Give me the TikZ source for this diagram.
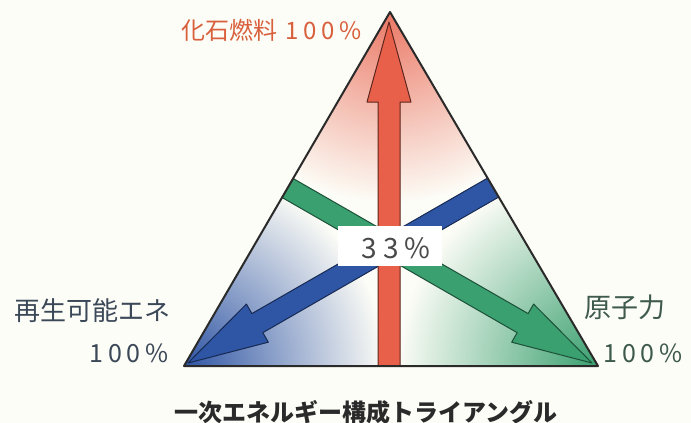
\documentclass[tikz,border=0pt]{standalone}
\usepackage{fontspec}
\newfontfamily\jpfont{Noto Sans CJK JP}
\usetikzlibrary{calc,fadings}
\definecolor{paper}{HTML}{FDFDF7}
\definecolor{ink}{HTML}{2A2A2A}
\definecolor{fossilred}{HTML}{E8604A}
\definecolor{renewblue}{HTML}{2F55A5}
\definecolor{nuclgreen}{HTML}{3AA070}
\definecolor{fossiltext}{HTML}{D8603C}
\definecolor{renewtext}{HTML}{3B4858}
\definecolor{nucltext}{HTML}{3E5A4C}
\tikzfading[name=cornerfade, inner color=transparent!0, outer color=transparent!100]

% fat arrow from #1 to #2, style #3
\newcommand{\fatarrow}[3]{%
  \coordinate (hb) at ($(#2)!80pt!(#1)$);
  \filldraw[#3] ($(#1)!11pt!90:(#2)$) -- ($(hb)!11pt!90:(#2)$)
    -- ($(hb)!22pt!90:(#2)$) -- (#2) -- ($(hb)!22pt!-90:(#2)$)
    -- ($(hb)!11pt!-90:(#2)$) -- ($(#1)!11pt!-90:(#2)$) -- cycle;
}

\begin{document}
\begin{tikzpicture}[x=1pt, y=-1pt, line join=round,
    outline/.style={line width=2pt, draw=ink},
    arrowbox/.style={line width=1pt},
    jp/.style={font=\jpfont\fontsize{#1}{#1}\selectfont, inner sep=0pt},
    pct/.style={font=\jpfont\addfontfeature{LetterSpace=20}\fontsize{#1}{#1}\selectfont, inner sep=0pt}]
  \fill[paper] (0,0) rectangle (691,423);
  \useasboundingbox (0,0) rectangle (691,423);

  \coordinate (apex) at (390,12);
  \coordinate (lcorner) at (184,366);
  \coordinate (rcorner) at (598,366);
  \coordinate (redstart) at (389,370);
  \coordinate (redtip) at (389,22);
  \coordinate (greenstart) at (265,175);
  \coordinate (greentip) at (592,363);
  \coordinate (bluestart) at (515,175);
  \coordinate (bluetip) at (188,363);

  \begin{scope}
    \clip (apex) -- (lcorner) -- (rcorner) -- cycle;
    \fill[fossilred!85, path fading=cornerfade] (apex) circle (190);
    \fill[renewblue, path fading=cornerfade] (lcorner) circle (200);
    \fill[nuclgreen, path fading=cornerfade] (rcorner) circle (200);
    \fatarrow{bluestart}{bluetip}{arrowbox, fill=renewblue, draw=renewblue!50!black}
    \fatarrow{greenstart}{greentip}{arrowbox, fill=nuclgreen, draw=nuclgreen!50!black}
    \fatarrow{redstart}{redtip}{arrowbox, fill=fossilred, draw=fossilred!40!black}
  \end{scope}

  \node[fill=white, minimum width=104, minimum height=40] (sharebox) at (390,246) {};
  \node[pct=28, text=ink!85] (share) at (396,248) {33\%};

  \draw[outline] (apex) -- (lcorner) -- (rcorner) -- cycle;

  \node[jp=24, text=fossiltext, anchor=east] (fossil) at (362,30)
    {化石燃料\hspace{8pt}{\addfontfeature{LetterSpace=20}100\%}};
  \node[jp=26, text=renewtext, anchor=east] (renew) at (171,311) {再生可能エネ};
  \node[pct=25, text=renewtext, anchor=east] (renewpct) at (169,353) {100\%};
  \node[jp=27, text=nucltext, anchor=west] (nuclear) at (584,307) {原子力};
  \node[pct=25, text=nucltext, anchor=west] (nuclearpct) at (603,353) {100\%};
  \node[jp=24, font=\jpfont\bfseries\fontsize{24}{24}\selectfont, text=ink] (caption) at (366,412)
    {一次エネルギー構成トライアングル};
\end{tikzpicture}
\end{document}
